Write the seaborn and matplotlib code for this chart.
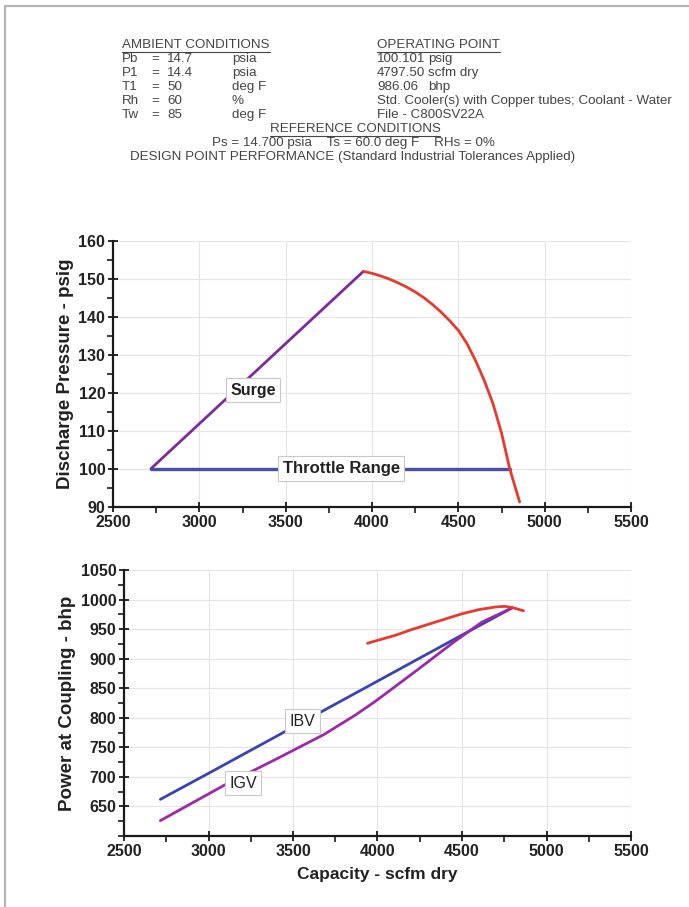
import numpy as np
import pandas as pd
import matplotlib
matplotlib.use("Agg")
import matplotlib.pyplot as plt
from matplotlib.lines import Line2D
from matplotlib.ticker import MultipleLocator, FixedLocator
import seaborn as sns

# ---- operating data -------------------------------------------------------
# Discharge pressure map (psig vs scfm dry)
surge_x = [2720, 3950]
surge_y = [100.1, 152.0]
throttle_x = [2720, 4797.5]
throttle_y = [100.1, 100.1]
curve_x = [3950, 4000, 4050, 4100, 4150, 4200, 4250, 4300, 4350, 4400, 4450,
           4500, 4550, 4600, 4650, 4700, 4750, 4797.5, 4855]
curve_y = [152.0, 151.5, 150.8, 150.0, 149.0, 147.9, 146.6, 145.1, 143.3, 141.3,
           139.0, 136.5, 133.0, 128.5, 123.3, 117.3, 109.5, 100.1, 91.3]

# Power at coupling (bhp vs scfm dry)
ibv_x = [2715, 3000, 3500, 4000, 4500, 4797.5]
ibv_y = [662, 706, 784, 862, 940, 986]
igv_x = [2715, 3100, 3400, 3685, 3871, 3988, 4222, 4456, 4619, 4797.5]
igv_y = [626, 687, 730, 772, 805, 828, 878, 929, 962, 986]
pwr_x = [3941, 4000, 4100, 4200, 4300, 4400, 4500, 4600, 4700, 4750, 4797.5, 4864]
pwr_y = [926, 931, 939, 949, 958, 967, 976, 983, 987.5, 988.5, 986.5, 981]

x_ticks = [2500, 3000, 3500, 4000, 4500, 5000, 5500]
p_ticks = [90, 100, 110, 120, 130, 140, 150, 160]
w_ticks = [650, 700, 750, 800, 850, 900, 950, 1000, 1050]

ambient = [("Pb", "14.7", "psia"), ("P1", "14.4", "psia"), ("T1", "50", "deg F"),
           ("Rh", "60", "%"), ("Tw", "85", "deg F")]
operating = [("100.101", "psig"), ("4797.50", "scfm dry"), ("986.06", "bhp"),
             ("Std. Cooler(s) with Copper tubes; Coolant - Water", ""),
             ("File - C800SV22A", "")]

# ---- style ------------------------------------------------------------------
sns.set_theme(style="whitegrid")
plt.rcParams["font.family"] = ["Liberation Sans", "DejaVu Sans"]

W, H = 689, 907
fig = plt.figure(figsize=(W / 100, H / 100), dpi=100)
fig.patch.set_facecolor("white")


def fx(px):
    return px / W


def fy(py):
    return 1 - py / H


PURPLE = "#7a2c9e"
BLUE = "#4a4ea6"
RED = "#e63a2e"
IBV_BLUE = "#3a44b0"
IGV_PURPLE = "#9a2aa6"
TXT = "#444444"

# page frame (top and left edges)
fig.add_artist(Line2D([fx(5), fx(5), fx(689)], [fy(907), fy(6), fy(6)],
                      transform=fig.transFigure, color="#b4b4b4", lw=1.6))

# ---- header block -----------------------------------------------------------
hfs = 9.6
under = []
under.append(fig.text(fx(122), fy(45), "AMBIENT CONDITIONS", fontsize=hfs, color=TXT, va="center"))
under.append(fig.text(fx(377), fy(45), "OPERATING POINT", fontsize=hfs, color=TXT, va="center"))
row_y = [59, 73, 87, 101, 115]
for (name, val, unit), (oval, ounit), ry in zip(ambient, operating, row_y):
    fig.text(fx(122), fy(ry), name, fontsize=hfs, color=TXT, va="center")
    fig.text(fx(151), fy(ry), "=", fontsize=hfs, color=TXT, va="center")
    fig.text(fx(167), fy(ry), val, fontsize=hfs, color=TXT, va="center")
    fig.text(fx(232), fy(ry), unit, fontsize=hfs, color=TXT, va="center")
    fig.text(fx(377), fy(ry), oval, fontsize=hfs, color=TXT, va="center")
    if ounit:
        fig.text(fx(428), fy(ry), ounit, fontsize=hfs, color=TXT, va="center")
under.append(fig.text(fx(355), fy(129), "REFERENCE CONDITIONS", fontsize=hfs, color=TXT,
                      va="center", ha="center"))
fig.text(fx(353), fy(143), "Ps = 14.700 psia    Ts = 60.0 deg F    RHs = 0%",
         fontsize=hfs, color=TXT, va="center", ha="center")
fig.text(fx(353), fy(157), "DESIGN POINT PERFORMANCE (Standard Industrial Tolerances Applied)",
         fontsize=hfs, color=TXT, va="center", ha="center")

renderer = fig.canvas.get_renderer()
for t in under:
    bb = t.get_window_extent(renderer=renderer).transformed(fig.transFigure.inverted())
    fig.add_artist(Line2D([bb.x0, bb.x1], [bb.y0 - 0.001, bb.y0 - 0.001],
                          transform=fig.transFigure, color=TXT, lw=0.8))

# ---- axes -------------------------------------------------------------------
ax1 = fig.add_axes([fx(113), fy(507), fx(631) - fx(113), fy(241) - fy(507)])
ax2 = fig.add_axes([fx(124), fy(836), fx(631) - fx(124), fy(570) - fy(836)])

lw = 2.0
sns.lineplot(x=surge_x, y=surge_y, ax=ax1, color=PURPLE, lw=lw, sort=False, estimator=None)
sns.lineplot(x=throttle_x, y=throttle_y, ax=ax1, color=BLUE, lw=lw + 0.4, sort=False, estimator=None)
sns.lineplot(x=curve_x, y=curve_y, ax=ax1, color=RED, lw=lw, sort=False, estimator=None)

sns.lineplot(x=ibv_x, y=ibv_y, ax=ax2, color=IBV_BLUE, lw=lw, sort=False, estimator=None)
sns.lineplot(x=igv_x, y=igv_y, ax=ax2, color=IGV_PURPLE, lw=lw, sort=False, estimator=None)
sns.lineplot(x=pwr_x, y=pwr_y, ax=ax2, color=RED, lw=lw, sort=False, estimator=None)

box = dict(boxstyle="square,pad=0.28", fc="white", ec="#c8c8c8", lw=0.8)
ax1.text(3312, 120.7, "Surge", ha="center", va="center", fontsize=11.5, fontweight="bold",
         color="#222222", bbox=box, zorder=5)
ax1.text(3822, 100.1, "Throttle Range", ha="center", va="center", fontsize=12,
         fontweight="bold", color="#222222", bbox=box, zorder=5)
ax2.text(3556, 794, "IBV", ha="center", va="center", fontsize=11.5, color="#222222",
         bbox=box, zorder=5)
ax2.text(3205, 689, "IGV", ha="center", va="center", fontsize=11.5, color="#222222",
         bbox=box, zorder=5)

for ax, yt, ylim, ymin_step, ylab in [
        (ax1, p_ticks, (90, 160), 5, "Discharge Pressure - psig"),
        (ax2, w_ticks, (600, 1050), 25, "Power at Coupling - bhp")]:
    ax.set_xlim(2500, 5500)
    ax.set_ylim(*ylim)
    ax.xaxis.set_major_locator(FixedLocator(x_ticks))
    ax.xaxis.set_minor_locator(MultipleLocator(250))
    ax.yaxis.set_major_locator(FixedLocator(yt))
    ax.yaxis.set_minor_locator(MultipleLocator(ymin_step))
    ax.set_facecolor("white")
    ax.grid(True, which="major", color="#e4e4e4", lw=0.8)
    ax.grid(False, which="minor")
    for s in ["top", "right"]:
        ax.spines[s].set_visible(False)
    for s in ["left", "bottom"]:
        ax.spines[s].set_visible(True)
        ax.spines[s].set_color("#1a1a1a")
        ax.spines[s].set_linewidth(1.6)
    ax.tick_params(axis="both", which="major", direction="inout", length=7, width=1.3,
                   color="#1a1a1a", labelsize=11.5, labelcolor="#222222", pad=2,
                   left=True, bottom=True)
    ax.tick_params(axis="both", which="minor", direction="out", length=4, width=1.2,
                   color="#1a1a1a", left=True, bottom=True)
    for lab in ax.get_xticklabels() + ax.get_yticklabels():
        lab.set_fontweight("bold")
    ax.set_ylabel(ylab, fontsize=13.5, fontweight="bold", color="#222222", labelpad=3)
    ax.set_xlabel("")

ax2.set_xlabel("Capacity - scfm dry", fontsize=12.5, fontweight="bold", color="#222222",
               labelpad=6)

fig.savefig("out.png", dpi=100, facecolor="white")
